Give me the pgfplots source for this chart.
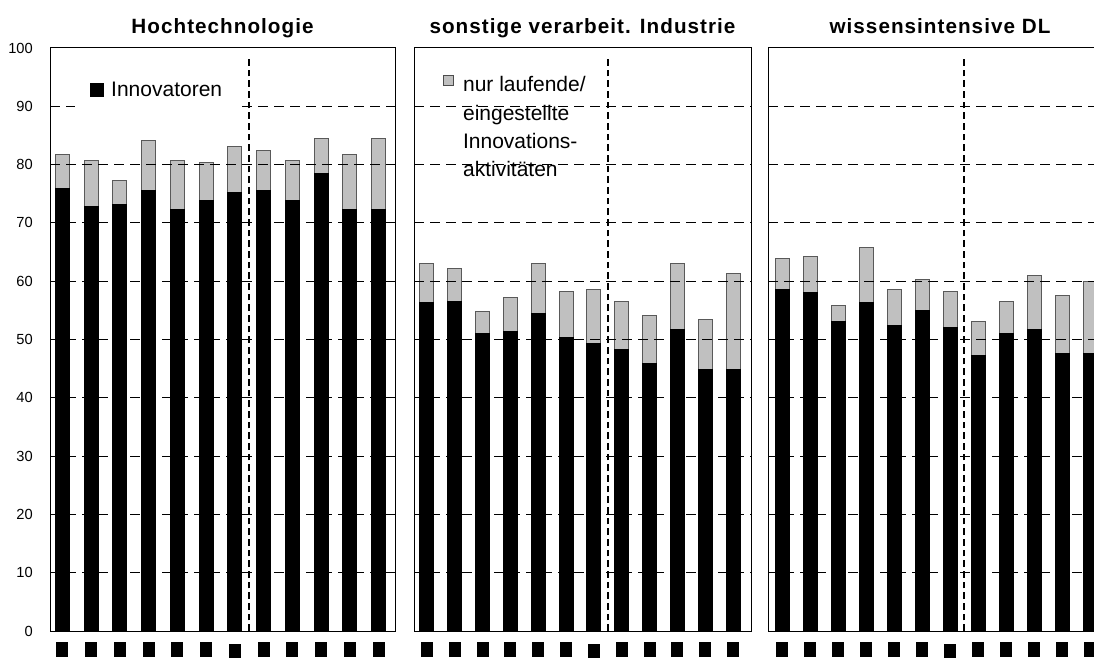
\documentclass[border=0pt]{standalone}
\usepackage{fontspec}
\setmainfont{Liberation Sans}
\newfontfamily\titlefont[LetterSpace=5]{Liberation Sans}
\usepackage{pgfplots}
\pgfplotsset{compat=1.18}
\usepackage{pgfplotstable}
\definecolor{barg}{RGB}{192,192,192}
\newcommand\tb{\rule{9pt}{11pt}}
\newcommand\tbl{\raisebox{-1pt}[11pt][0pt]{\rule{9pt}{11pt}}}
\tikzset{sepline/.style={black, line width=1.5pt, dash pattern=on 5pt off 3pt},
         gridl/.style={black, line width=0.75pt, dash pattern=on 7.5pt off 4.5pt}}

\pgfplotstableread{
x inn rest
0 75.9 5.8
1 72.8 7.9
2 73.1 4.2
3 75.5 8.6
4 72.3 8.4
5 73.8 6.5
6 75.2 7.9
7 75.5 6.9
8 73.8 6.9
9 78.4 6.0
10 72.3 9.4
11 72.3 12.1
}\hightech

\pgfplotstableread{
x inn rest
0 56.3 6.8
1 56.6 5.5
2 51.0 3.8
3 51.4 5.8
4 54.5 8.6
5 50.3 8.0
6 49.4 9.2
7 48.3 8.3
8 45.9 8.2
9 51.8 11.3
10 44.9 8.5
11 44.9 16.5
}\sonst

\pgfplotstableread{
x inn rest
0 58.6 5.3
1 58.0 6.3
2 53.1 2.8
3 56.3 9.5
4 52.4 6.2
5 54.9 5.4
6 52.1 6.2
7 47.2 5.9
8 51.0 5.6
9 51.7 9.3
10 47.6 10.0
11 47.6 12.4
}\wiss

\pgfplotsset{
  panel/.style={
    ybar stacked, bar width=10.5pt,
    scale only axis, height=437.25pt, anchor=south west,
    ymin=0, ymax=100, ytick={0,10,...,100},
    major tick length=0pt,
    axis line style={black, line width=0.75pt},
    xtick={0,...,11},
    xticklabels={\tb,\tb,\tb,\tb,\tb,\tb,\tbl,\tb,\tb,\tb,\tb,\tb},
    xticklabel style={anchor=north, inner sep=0pt, yshift=-8.25pt},
    title style={font=\titlefont\bfseries\fontsize{15.5}{18}\selectfont, at={(0.5,1)}, anchor=base, yshift=4.5pt},
    yticklabel style={font=\fontsize{11}{13}\selectfont, inner sep=0pt, xshift=-12.75pt},
    /pgf/number format/assume math mode=true,
  },
  blackbar/.style={fill=black, draw=black, line width=0.75pt, forget plot},
  graybar/.style={fill=barg, draw=black!65, line width=0.75pt, forget plot},
}

\newcommand\hgrid{%
  \draw[gridl] (rel axis cs:0,0.1) -- (rel axis cs:1,0.1);
  \draw[gridl] (rel axis cs:0,0.2) -- (rel axis cs:1,0.2);
  \draw[gridl] (rel axis cs:0,0.3) -- (rel axis cs:1,0.3);
  \draw[gridl] (rel axis cs:0,0.4) -- (rel axis cs:1,0.4);
  \draw[gridl] (rel axis cs:0,0.5) -- (rel axis cs:1,0.5);
  \draw[gridl] (rel axis cs:0,0.6) -- (rel axis cs:1,0.6);
  \draw[gridl] (rel axis cs:0,0.7) -- (rel axis cs:1,0.7);
  \draw[gridl] (rel axis cs:0,0.8) -- (rel axis cs:1,0.8);
  \draw[gridl] (rel axis cs:0,0.9) -- (rel axis cs:1,0.9);
}

\begin{document}
\begin{tikzpicture}
% Panel 1
\begin{axis}[panel, at={(37.5pt,20.25pt)}, width=258.75pt,
  xmin=-0.435, xmax=11.574,
  title={Hochtechnologie},
  legend style={at={(0.0725,0.9605)}, anchor=north west, draw=none, fill=white,
    inner xsep=11pt, inner ysep=8pt, outer sep=0pt, font=\fontsize{15.75}{21.3}\selectfont,
    column sep=6pt, nodes={inner sep=0pt}, cells={anchor=base west}},
]
\hgrid
\addplot[blackbar] table[x=x, y=inn] {\hightech};
\addplot[graybar] table[x=x, y=rest] {\hightech};
\draw[sepline] (axis cs:6.5,0) -- (axis cs:6.5,98.3);
\fill[white] (rel axis cs:0.0725,0.890) rectangle (rel axis cs:0.536,0.9605);
\addlegendimage{legend image code/.code={\fill[black] (0pt,0pt) rectangle (9.75pt,9.75pt);}}
\addlegendentry{Innovatoren}
\end{axis}
% Panel 2
\begin{axis}[panel, at={(310.5pt,20.25pt)}, width=252.75pt,
  xmin=-0.467, xmax=11.647, yticklabels={},
  title={sonstige verarbeit. Industrie},
  legend style={at={(0.0237,0.9775)}, anchor=north west, draw=none, fill=white,
    inner xsep=9pt, inner ysep=8pt, outer sep=0pt, font=\fontsize{15.75}{21.3}\selectfont,
    column sep=7pt, nodes={inner sep=0pt}, cells={anchor=base west}},
]
\hgrid
\addplot[blackbar] table[x=x, y=inn] {\sonst};
\addplot[graybar] table[x=x, y=rest] {\sonst};
\draw[sepline] (axis cs:6.5,0) -- (axis cs:6.5,98.3);
\fill[white] (rel axis cs:0.0237,0.7462) rectangle (rel axis cs:0.555,0.9775);
\addlegendimage{legend image code/.code={\path (0pt,4.5pt); \filldraw[fill=barg, draw=black!70, line width=0.75pt] (6.75pt,4.5pt) rectangle (14.25pt,12pt);}}
\addlegendentry{\begin{tabular}[t]{@{}l@{}}nur laufende/\\eingestellte\\Innovations-\\aktivitäten\end{tabular}}
\end{axis}
% Panel 3
\begin{axis}[panel, at={(576pt,20.25pt)}, width=258pt,
  xmin=-0.5, xmax=11.786, yticklabels={},
  title={wissensintensive DL},
]
\hgrid
\addplot[blackbar] table[x=x, y=inn] {\wiss};
\addplot[graybar] table[x=x, y=rest] {\wiss};
\draw[sepline] (axis cs:6.5,0) -- (axis cs:6.5,98.3);
\end{axis}
\pgfresetboundingbox
\useasboundingbox (0,0) rectangle (820.5pt,493.5pt);
\end{tikzpicture}
\end{document}
